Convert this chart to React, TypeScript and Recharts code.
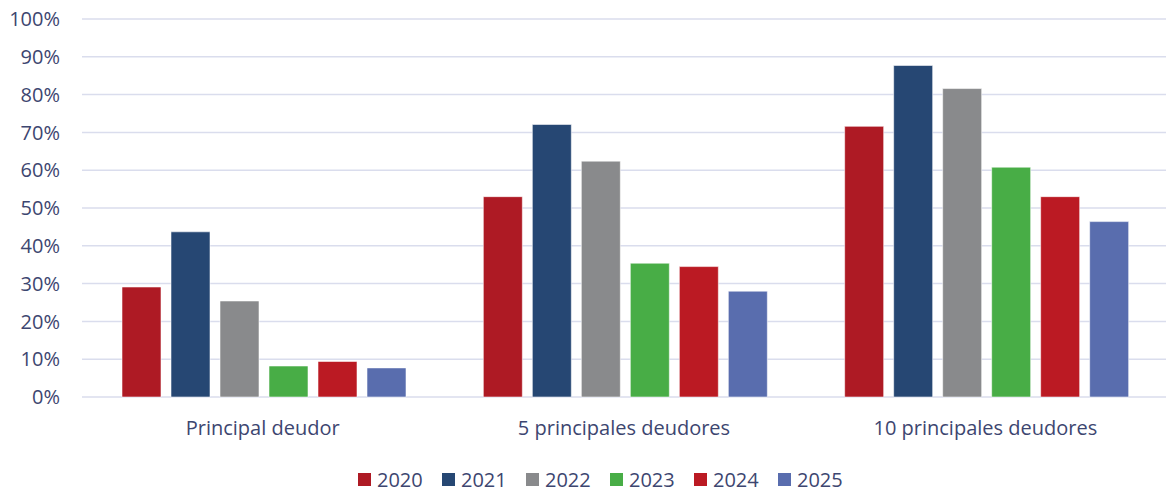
import React from 'react';
import { BarChart, Bar, XAxis, YAxis, CartesianGrid, Legend } from 'recharts';

const categories = ['Principal deudor', '5 principales deudores', '10 principales deudores'];
const years = ['2020', '2021', '2022', '2023', '2024', '2025'];
const values2020 = [29.1, 53.0, 71.6];
const values2021 = [43.7, 72.1, 87.7];
const values2022 = [25.4, 62.4, 81.6];
const values2023 = [8.2, 35.4, 60.8];
const values2024 = [9.4, 34.5, 53.0];
const values2025 = [7.7, 28.0, 46.4];
const yTicks = [0, 10, 20, 30, 40, 50, 60, 70, 80, 90, 100];

const colors = ['#ae1a24', '#264773', '#898a8c', '#48ad46', '#bb1a23', '#596dae'];
const series = [values2020, values2021, values2022, values2023, values2024, values2025];

const data = categories.map((name, i) => {
  const row: Record<string, string | number> = { name };
  years.forEach((y, j) => { row[y] = series[j][i]; });
  return row;
});

const textColor = '#3d4670';
const fontFamily = '"Open Sans", "Noto Sans", sans-serif';

const renderLegend = () => (
  <div style={{ display: 'flex', marginLeft: 358, fontFamily, fontSize: 20, color: textColor }}>
    {years.map((y, i) => (
      <div key={y} style={{ display: 'flex', alignItems: 'center', width: 84 }}>
        <span style={{ display: 'inline-block', width: 13, height: 13, background: colors[i], marginRight: 6 }} />
        <span>{y}</span>
      </div>
    ))}
  </div>
);

const App: React.FC = () => {
  return (
    <div style={{ position: 'absolute', left: 0, top: 0, width: 1166, height: 492, background: '#fff' }}>
      <BarChart
        width={1166}
        height={492}
        data={data}
        margin={{ top: 19, right: 0, left: 0, bottom: 0 }}
        barCategoryGap={40}
        barGap={10}
      >
        <CartesianGrid vertical={false} stroke="#dadded" strokeWidth={1.5} />
        <XAxis
          dataKey="name"
          axisLine={false}
          tickLine={false}
          tickSize={0}
          tickMargin={24}
          height={65}
          tick={{ fill: textColor, fontSize: 20, fontFamily }}
        />
        <YAxis
          domain={[0, 100]}
          ticks={yTicks}
          width={82}
          axisLine={false}
          tickLine={false}
          tickSize={0}
          tickMargin={22}
          tickFormatter={(v) => `${v}%`}
          tick={{ fill: textColor, fontSize: 20, fontFamily }}
        />
        <Legend
          verticalAlign="bottom"
          height={30}
          content={renderLegend}
          wrapperStyle={{ left: 0, width: 1166, top: 466 }}
        />
        {years.map((y, i) => (
          <Bar
            key={y}
            dataKey={y}
            fill={colors[i]}
            stroke="rgba(255,255,255,0.55)"
            strokeWidth={1}
            isAnimationActive={false}
          />
        ))}
      </BarChart>
    </div>
  );
};

export default App;
